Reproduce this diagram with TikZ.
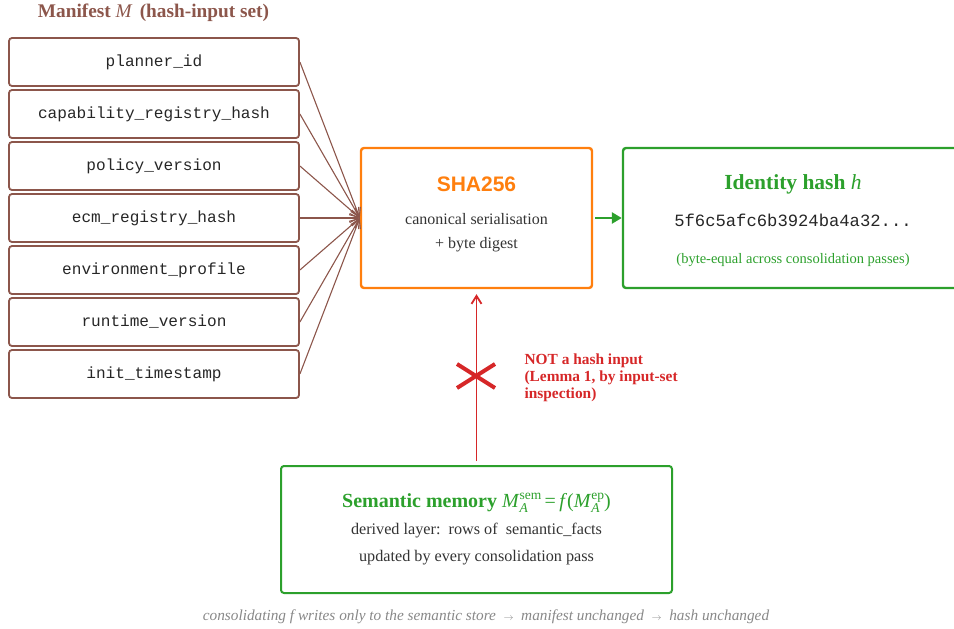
\documentclass[tikz,border=0pt]{standalone}
\usepackage{fontspec}
\setmainfont{Liberation Serif}
\setsansfont{Liberation Sans}
\setmonofont{Liberation Mono}
\usetikzlibrary{arrows.meta}
\definecolor{mbrown}{HTML}{8C564B}
\definecolor{morange}{HTML}{FF7F0E}
\definecolor{mgreen}{HTML}{2CA02C}
\definecolor{mred}{HTML}{D62728}
\definecolor{mtext}{HTML}{333333}
\definecolor{mgray}{HTML}{888888}
\newcommand\mysupsub[2]{\setbox0\hbox{\fontsize{13.5}{14}\selectfont\mdseries\upshape #1}\setbox2\hbox{\fontsize{13.5}{14}\selectfont\mdseries\itshape #2}\dimen0=\wd0 \ifdim\wd2>\dimen0 \dimen0=\wd2 \fi\rlap{\raise8pt\copy0}\rlap{\lower5pt\copy2}\hspace{\dimen0}}
\tikzset{
  fbox/.style={draw=mbrown, line width=1.8pt, rounded corners=3pt, minimum width=290pt, minimum height=48pt, inner sep=0pt,
    font=\ttfamily\fontsize{16.1}{18}\selectfont, text=black!85},
  inarrow/.style={draw=mbrown, line width=1.1pt, -{Straight Barb[length=9pt,width=9pt]}},
  bigbox/.style={line width=2.4pt, rounded corners=3pt, inner sep=0pt},
}
\begin{document}
\begin{tikzpicture}[x=1pt,y=-1pt]
\useasboundingbox (0,0) rectangle (954,629);
\clip (0,0) rectangle (954,629);
\node[font=\bfseries\fontsize{19.3}{22}\selectfont, text=mbrown] (title) at (153.5,13) {Manifest {\mdseries\itshape M}\, (hash-input set)};
\node[fbox] (b1) at (154,62) {planner\_id};
\node[fbox] (b2) at (154,114) {capability\_registry\_hash};
\node[fbox] (b3) at (154,166) {policy\_version};
\node[fbox] (b4) at (154,218) {ecm\_registry\_hash};
\node[fbox] (b5) at (154,270) {environment\_profile};
\node[fbox] (b6) at (154,322) {runtime\_version};
\node[fbox] (b7) at (154,374) {init\_timestamp};

\node[bigbox, draw=morange, minimum width=231pt, minimum height=140pt] (sha) at (476.5,218) {};
\node[font=\sffamily\bfseries\fontsize{21}{24}\selectfont, text=morange] (shat) at (476.5,184) {SHA256};
\node[font=\fontsize{16}{24}\selectfont, text=mtext, align=center] (shad) at (476.5,233) {canonical serialisation\\+ byte digest};

\foreach \i in {1,...,7} {\draw[inarrow] (b\i.east) -- (sha.west);}

\node[bigbox, draw=mgreen, minimum width=340pt, minimum height=140pt] (id) at (793,218) {};
\node[font=\bfseries\fontsize{21.5}{24}\selectfont, text=mgreen] (idt) at (793,184) {Identity hash {\mdseries\itshape h}};
\node[font=\ttfamily\fontsize{17.2}{20}\selectfont, text=black!85] (idh) at (793,220) {5f6c5afc6b3924ba4a32...};
\node[font=\fontsize{14.5}{17}\selectfont, text=mgreen] (idn) at (793,260) {(byte-equal across consolidation passes)};
\draw[draw=mgreen, line width=2.6pt, -{Triangle[length=10pt,width=11pt]}, shorten <=2pt] (sha.east) -- (id.west);

\node[bigbox, draw=mgreen, line width=2pt, minimum width=391pt, minimum height=127pt] (sem) at (476.5,529.5) {};
\node[font=\fontsize{20}{22}\selectfont, text=mgreen] (semt) at (476.5,503) {\textbf{Semantic memory} \textit{M}\mysupsub{sem}{A}\,=\,\textit{f}(\textit{M}\mysupsub{ep}{A})};
\node[font=\fontsize{16.2}{27}\selectfont, text=mtext, align=center] (semd) at (476.5,544.5) {derived layer:\ \ rows of\ \ semantic\_facts\\updated by every consolidation pass};

\draw[draw=mred, line width=1.8pt, -{Straight Barb[length=8pt,width=10pt]}, shorten <=4pt, shorten >=5pt] (sem.north) -- (sha.south);
\coordinate (xm) at (476,376);
\draw[draw=mred, line width=4pt] (xm) ++(-19,-12) -- ++(38,24);
\draw[draw=mred, line width=4pt] (xm) ++(-19,12) -- ++(38,-24);
\node[anchor=west, align=left, font=\bfseries\fontsize{15.4}{17}\selectfont, text=mred] (note) at (521,378) {NOT a hash input\\(Lemma 1, by input-set\\inspection)};

\node[font=\itshape\fontsize{15.3}{17}\selectfont, text=mgray] (foot) at (486,617) {consolidating \textit{f} writes only to the semantic store \ {\fontsize{10}{10}\selectfont$\rightarrow$}\ \ manifest unchanged\ \ {\fontsize{10}{10}\selectfont$\rightarrow$}\ \ hash unchanged};
\end{tikzpicture}
\end{document}
